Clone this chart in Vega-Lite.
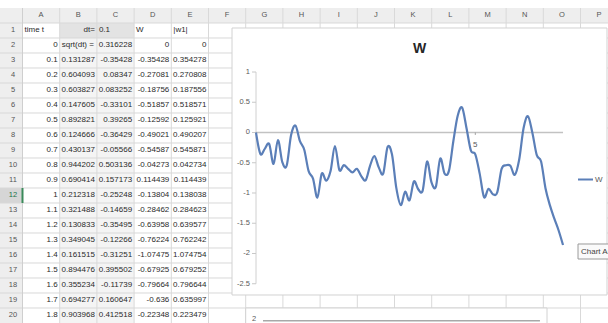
{
  "$schema": "https://vega.github.io/schema/vega-lite/v6.json",
  "width": 608,
  "height": 323,
  "autosize": {"type": "none"},
  "padding": 0,
  "background": "white",
  "config": {
    "view": {"stroke": null},
    "text": {"font": "Liberation Sans Narrow, Arial Narrow, Liberation Sans, sans-serif", "fontSize": 8, "color": "#2a2a2a"}
  },
  "datasets": {
    "walk": [
      {"row": 2, "t": 0, "dW": 0.316228, "W": 0, "absW": 0},
      {"row": 3, "t": 0.1, "rand": 0.131287, "dW": -0.35428, "W": -0.35428, "absW": 0.354278},
      {"row": 4, "t": 0.2, "rand": 0.604093, "dW": 0.08347, "W": -0.27081, "absW": 0.270808},
      {"row": 5, "t": 0.3, "rand": 0.603827, "dW": 0.083252, "W": -0.18756, "absW": 0.187556},
      {"row": 6, "t": 0.4, "rand": 0.147605, "dW": -0.33101, "W": -0.51857, "absW": 0.518571},
      {"row": 7, "t": 0.5, "rand": 0.892821, "dW": 0.39265, "W": -0.12592, "absW": 0.125921},
      {"row": 8, "t": 0.6, "rand": 0.124666, "dW": -0.36429, "W": -0.49021, "absW": 0.490207},
      {"row": 9, "t": 0.7, "rand": 0.430137, "dW": -0.05566, "W": -0.54587, "absW": 0.545871},
      {"row": 10, "t": 0.8, "rand": 0.944202, "dW": 0.503136, "W": -0.04273, "absW": 0.042734},
      {"row": 11, "t": 0.9, "rand": 0.690414, "dW": 0.157173, "W": 0.114439, "absW": 0.114439},
      {"row": 12, "t": 1, "rand": 0.212318, "dW": -0.25248, "W": -0.13804, "absW": 0.138038},
      {"row": 13, "t": 1.1, "rand": 0.321488, "dW": -0.14659, "W": -0.28462, "absW": 0.284623},
      {"row": 14, "t": 1.2, "rand": 0.130833, "dW": -0.35495, "W": -0.63958, "absW": 0.639577},
      {"row": 15, "t": 1.3, "rand": 0.349045, "dW": -0.12266, "W": -0.76224, "absW": 0.762242},
      {"row": 16, "t": 1.4, "rand": 0.161515, "dW": -0.31251, "W": -1.07475, "absW": 1.074754},
      {"row": 17, "t": 1.5, "rand": 0.894476, "dW": 0.395502, "W": -0.67925, "absW": 0.679252},
      {"row": 18, "t": 1.6, "rand": 0.355234, "dW": -0.11739, "W": -0.79664, "absW": 0.796644},
      {"row": 19, "t": 1.7, "rand": 0.694277, "dW": 0.160647, "W": -0.636, "absW": 0.635997},
      {"row": 20, "t": 1.8, "rand": 0.903968, "dW": 0.412518, "W": -0.22348, "absW": 0.223479},
      {"t": 1.9, "W": -0.62}, {"t": 2, "W": -0.54}, {"t": 2.1, "W": -0.6}, {"t": 2.2, "W": -0.66},
      {"t": 2.3, "W": -0.6}, {"t": 2.4, "W": -0.72}, {"t": 2.5, "W": -0.79}, {"t": 2.6, "W": -0.55},
      {"t": 2.7, "W": -0.39}, {"t": 2.8, "W": -0.58}, {"t": 2.9, "W": -0.68}, {"t": 3, "W": -0.24},
      {"t": 3.1, "W": -0.36}, {"t": 3.2, "W": -0.92}, {"t": 3.3, "W": -1.2}, {"t": 3.4, "W": -0.98},
      {"t": 3.5, "W": -1.12}, {"t": 3.6, "W": -0.81}, {"t": 3.7, "W": -0.94}, {"t": 3.8, "W": -0.96},
      {"t": 3.9, "W": -0.48}, {"t": 4, "W": -0.82}, {"t": 4.1, "W": -0.9}, {"t": 4.2, "W": -0.43},
      {"t": 4.3, "W": -0.68}, {"t": 4.4, "W": -0.63}, {"t": 4.5, "W": -0.14}, {"t": 4.6, "W": 0.28},
      {"t": 4.7, "W": 0.41}, {"t": 4.8, "W": 0.07}, {"t": 4.9, "W": -0.3}, {"t": 5, "W": -0.36},
      {"t": 5.1, "W": -0.68}, {"t": 5.2, "W": -1.07}, {"t": 5.3, "W": -0.93}, {"t": 5.4, "W": -1.02},
      {"t": 5.5, "W": -0.99}, {"t": 5.6, "W": -0.6}, {"t": 5.7, "W": -0.54}, {"t": 5.8, "W": -0.55},
      {"t": 5.9, "W": -0.7}, {"t": 6, "W": -0.45}, {"t": 6.1, "W": 0.07}, {"t": 6.2, "W": 0.27},
      {"t": 6.3, "W": 0}, {"t": 6.4, "W": -0.37}, {"t": 6.5, "W": -0.48}, {"t": 6.6, "W": -0.92},
      {"t": 6.7, "W": -1.2}, {"t": 6.8, "W": -1.42}, {"t": 6.9, "W": -1.62}, {"t": 7, "W": -1.86}
    ],
    "valueTicks": [
      {"v": 1}, {"v": 0.5}, {"v": 0}, {"v": -0.5}, {"v": -1}, {"v": -1.5}, {"v": -2}, {"v": -2.5}
    ],
    "timeTicks": [
      {"t": 5}
    ],
    "columns": [
      {"col": 1, "letter": "A"}, {"col": 2, "letter": "B"}, {"col": 3, "letter": "C"}, {"col": 4, "letter": "D"},
      {"col": 5, "letter": "E"}, {"col": 6, "letter": "F"}, {"col": 7, "letter": "G"}, {"col": 8, "letter": "H"},
      {"col": 9, "letter": "I"}, {"col": 10, "letter": "J"}, {"col": 11, "letter": "K"}, {"col": 12, "letter": "L"},
      {"col": 13, "letter": "M"}, {"col": 14, "letter": "N"}, {"col": 15, "letter": "O"}, {"col": 16, "letter": "P"}
    ],
    "rows": [
      {"row": 1}, {"row": 2}, {"row": 3}, {"row": 4}, {"row": 5}, {"row": 6}, {"row": 7}, {"row": 8}, {"row": 9}, {"row": 10},
      {"row": 11}, {"row": 12}, {"row": 13}, {"row": 14}, {"row": 15}, {"row": 16}, {"row": 17}, {"row": 18}, {"row": 19}, {"row": 20}
    ],
    "cellsLeft": [
      {"row": 1, "col": 1, "text": "time t"},
      {"row": 1, "col": 3, "text": "0.1"},
      {"row": 1, "col": 4, "text": "W"},
      {"row": 1, "col": 5, "text": "|w1|"},
      {"row": 2, "col": 2, "text": "sqrt(dt) ="}
    ],
    "cellsRight": [
      {"row": 1, "col": 2, "text": "dt="}
    ]
  },
  "layer": [
    {
      "layer": [
        {
          "data": {"values": [{}]},
          "mark": {"type": "rect", "fill": "#eeeeee"},
          "encoding": {
            "x": {"datum": -0.6048, "type": "quantitative", "scale": {"domain": [-0.6048, 15.7392], "nice": false, "zero": false}, "axis": null},
            "x2": {"datum": 15.7392},
            "y": {"datum": 0, "type": "quantitative", "scale": {"domain": [-0.5333, 21], "nice": false, "zero": false, "reverse": true}, "axis": null},
            "y2": {"datum": 1}
          }
        },
        {
          "data": {"values": [{}]},
          "mark": {"type": "rect", "fill": "#eeeeee"},
          "encoding": {
            "x": {"datum": -0.6048, "type": "quantitative", "axis": null},
            "x2": {"datum": 0},
            "y": {"datum": 0, "type": "quantitative", "axis": null},
            "y2": {"datum": 21}
          }
        },
        {
          "data": {"values": [{}]},
          "mark": {"type": "rect", "fill": "#e3e3e3"},
          "encoding": {
            "x": {"datum": 1, "type": "quantitative", "axis": null},
            "x2": {"datum": 3},
            "y": {"datum": 1, "type": "quantitative", "axis": null},
            "y2": {"datum": 2}
          }
        },
        {
          "data": {"values": [{}]},
          "mark": {"type": "rect", "fill": "#f4f4f4"},
          "encoding": {
            "x": {"datum": 1, "type": "quantitative", "axis": null},
            "x2": {"datum": 3},
            "y": {"datum": 2, "type": "quantitative", "axis": null},
            "y2": {"datum": 21}
          }
        },
        {
          "data": {"values": [{}]},
          "mark": {"type": "rect", "fill": "#d6d6d6"},
          "encoding": {
            "x": {"datum": -0.6048, "type": "quantitative", "axis": null},
            "x2": {"datum": 0},
            "y": {"datum": 12, "type": "quantitative", "axis": null},
            "y2": {"datum": 13}
          }
        },
        {
          "data": {"name": "rows"},
          "mark": {"type": "rule", "stroke": "#d9d9d9", "strokeWidth": 1},
          "encoding": {
            "y": {"field": "row", "type": "quantitative", "axis": null},
            "x": {"datum": -0.6048, "type": "quantitative", "axis": null},
            "x2": {"datum": 15.7392}
          }
        },
        {
          "data": {"name": "columns"},
          "mark": {"type": "rule", "stroke": "#d9d9d9", "strokeWidth": 1},
          "encoding": {
            "x": {"field": "col", "type": "quantitative", "axis": null},
            "y": {"datum": 0, "type": "quantitative", "axis": null},
            "y2": {"datum": 21}
          }
        },
        {
          "data": {"values": [{}]},
          "mark": {"type": "rule", "stroke": "#cfcfcf", "strokeWidth": 1},
          "encoding": {
            "x": {"datum": 0, "type": "quantitative", "axis": null},
            "y": {"datum": 0, "type": "quantitative", "axis": null},
            "y2": {"datum": 21}
          }
        },
        {
          "data": {"values": [{}]},
          "mark": {"type": "rule", "stroke": "#3a8a5a", "strokeWidth": 2},
          "encoding": {
            "x": {"datum": 0, "type": "quantitative", "axis": null},
            "y": {"datum": 12, "type": "quantitative", "axis": null},
            "y2": {"datum": 13}
          }
        },
        {
          "data": {"name": "columns"},
          "mark": {"type": "text", "align": "center", "baseline": "middle", "dx": -18.6, "dy": 7.5, "fontSize": 7.5, "color": "#555555"},
          "encoding": {
            "x": {"field": "col", "type": "quantitative", "axis": null},
            "y": {"datum": 0, "type": "quantitative", "axis": null},
            "text": {"field": "letter", "type": "nominal"}
          }
        },
        {
          "data": {"name": "rows"},
          "mark": {"type": "text", "align": "center", "baseline": "middle", "dy": 7.5, "fontSize": 7.5},
          "encoding": {
            "x": {"datum": -0.2554, "type": "quantitative", "axis": null},
            "y": {"field": "row", "type": "quantitative", "axis": null},
            "text": {"field": "row", "type": "nominal"},
            "color": {"condition": {"test": "datum.row === 12", "value": "#217346"}, "value": "#555555"}
          }
        },
        {
          "data": {"name": "walk"},
          "transform": [{"filter": "isValid(datum.row)"}],
          "mark": {"type": "text", "align": "right", "baseline": "middle", "dx": -2, "dy": 7.5},
          "encoding": {
            "x": {"datum": 1, "type": "quantitative", "axis": null},
            "y": {"field": "row", "type": "quantitative", "axis": null},
            "text": {"field": "t", "type": "nominal"}
          }
        },
        {
          "data": {"name": "walk"},
          "transform": [{"filter": "isValid(datum.row) && isValid(datum.rand)"}],
          "mark": {"type": "text", "align": "right", "baseline": "middle", "dx": -2, "dy": 7.5},
          "encoding": {
            "x": {"datum": 2, "type": "quantitative", "axis": null},
            "y": {"field": "row", "type": "quantitative", "axis": null},
            "text": {"field": "rand", "type": "nominal"}
          }
        },
        {
          "data": {"name": "walk"},
          "transform": [{"filter": "isValid(datum.row)"}],
          "mark": {"type": "text", "align": "right", "baseline": "middle", "dx": -2, "dy": 7.5},
          "encoding": {
            "x": {"datum": 3, "type": "quantitative", "axis": null},
            "y": {"field": "row", "type": "quantitative", "axis": null},
            "text": {"field": "dW", "type": "nominal"}
          }
        },
        {
          "data": {"name": "walk"},
          "transform": [{"filter": "isValid(datum.row)"}],
          "mark": {"type": "text", "align": "right", "baseline": "middle", "dx": -2, "dy": 7.5},
          "encoding": {
            "x": {"datum": 4, "type": "quantitative", "axis": null},
            "y": {"field": "row", "type": "quantitative", "axis": null},
            "text": {"field": "W", "type": "nominal"}
          }
        },
        {
          "data": {"name": "walk"},
          "transform": [{"filter": "isValid(datum.row)"}],
          "mark": {"type": "text", "align": "right", "baseline": "middle", "dx": -2, "dy": 7.5},
          "encoding": {
            "x": {"datum": 5, "type": "quantitative", "axis": null},
            "y": {"field": "row", "type": "quantitative", "axis": null},
            "text": {"field": "absW", "type": "nominal"}
          }
        },
        {
          "data": {"name": "cellsLeft"},
          "mark": {"type": "text", "align": "left", "baseline": "middle", "dx": -35.2, "dy": 7.5},
          "encoding": {
            "x": {"field": "col", "type": "quantitative", "axis": null},
            "y": {"field": "row", "type": "quantitative", "axis": null},
            "text": {"field": "text", "type": "nominal"}
          }
        },
        {
          "data": {"name": "cellsRight"},
          "mark": {"type": "text", "align": "right", "baseline": "middle", "dx": -2, "dy": 7.5},
          "encoding": {
            "x": {"field": "col", "type": "quantitative", "axis": null},
            "y": {"field": "row", "type": "quantitative", "axis": null},
            "text": {"field": "text", "type": "nominal"}
          }
        },
        {
          "data": {"values": [{}]},
          "mark": {"type": "rect", "fill": "white", "stroke": "#d2d2d2", "strokeWidth": 1},
          "encoding": {
            "x": {"datum": 5.632, "type": "quantitative", "axis": null},
            "x2": {"datum": 15.712},
            "y": {"datum": 1.333, "type": "quantitative", "axis": null},
            "y2": {"datum": 19.133}
          }
        },
        {
          "data": {"values": [{}]},
          "mark": {"type": "rect", "fill": "white", "stroke": "#d2d2d2", "strokeWidth": 1},
          "encoding": {
            "x": {"datum": 6, "type": "quantitative", "axis": null},
            "x2": {"datum": 14.1},
            "y": {"datum": 20, "type": "quantitative", "axis": null},
            "y2": {"datum": 21.6}
          }
        },
        {
          "data": {"values": [{}]},
          "mark": {"type": "rule", "stroke": "#a8a8a8", "strokeWidth": 1.5},
          "encoding": {
            "x": {"datum": 6.465, "type": "quantitative", "axis": null},
            "x2": {"datum": 13.91},
            "y": {"datum": 20.85, "type": "quantitative", "axis": null}
          }
        },
        {
          "data": {"values": [{}]},
          "mark": {"type": "text", "text": "2", "align": "center", "baseline": "middle", "fontSize": 7.5, "color": "#595959"},
          "encoding": {
            "x": {"datum": 6.223, "type": "quantitative", "axis": null},
            "y": {"datum": 20.73, "type": "quantitative", "axis": null}
          }
        }
      ]
    },
    {
      "layer": [
        {
          "data": {"values": [{}]},
          "mark": {"type": "rule", "stroke": "#d0d0d0", "strokeWidth": 1},
          "encoding": {
            "x": {"datum": 0, "type": "quantitative", "scale": {"domain": [-5.8368, 8.0255], "nice": false, "zero": false}, "axis": null},
            "y": {"datum": -2.5, "type": "quantitative", "scale": {"domain": [-3.1488, 2.1901], "nice": false, "zero": false}, "axis": null},
            "y2": {"datum": 1}
          }
        },
        {
          "data": {"name": "valueTicks"},
          "mark": {"type": "rule", "stroke": "#c8c8c8", "strokeWidth": 1},
          "encoding": {
            "x": {"datum": -0.0912, "type": "quantitative", "axis": null},
            "x2": {"datum": 0},
            "y": {"field": "v", "type": "quantitative", "axis": null}
          }
        },
        {
          "data": {"name": "valueTicks"},
          "mark": {"type": "text", "align": "right", "baseline": "middle", "dx": -6, "fontSize": 7.5, "color": "#595959"},
          "encoding": {
            "x": {"datum": 0, "type": "quantitative", "axis": null},
            "y": {"field": "v", "type": "quantitative", "axis": null},
            "text": {"field": "v", "type": "nominal"}
          }
        },
        {
          "data": {"values": [{}]},
          "mark": {"type": "rule", "stroke": "#c2c2c2", "strokeWidth": 1.5},
          "encoding": {
            "x": {"datum": 0, "type": "quantitative", "axis": null},
            "x2": {"datum": 7},
            "y": {"datum": 0, "type": "quantitative", "axis": null}
          }
        },
        {
          "data": {"name": "timeTicks"},
          "mark": {"type": "rule", "stroke": "#a0a0a0", "strokeWidth": 1},
          "encoding": {
            "x": {"field": "t", "type": "quantitative", "axis": null},
            "y": {"datum": 0, "type": "quantitative", "axis": null},
            "y2": {"datum": -0.04}
          }
        },
        {
          "data": {"name": "timeTicks"},
          "mark": {"type": "text", "align": "center", "baseline": "middle", "dy": 13, "fontSize": 8, "color": "#595959"},
          "encoding": {
            "x": {"field": "t", "type": "quantitative", "axis": null},
            "y": {"datum": 0, "type": "quantitative", "axis": null},
            "text": {"field": "t", "type": "nominal"}
          }
        },
        {
          "data": {"name": "walk"},
          "mark": {"type": "line", "interpolate": "cardinal", "tension": 0, "strokeWidth": 2.2},
          "encoding": {
            "x": {"field": "t", "type": "quantitative", "axis": null},
            "y": {"field": "W", "type": "quantitative", "axis": null},
            "color": {
              "datum": "W", "type": "nominal",
              "scale": {"range": ["#5b7fb8"]},
              "legend": {"orient": "none", "legendX": 577, "legendY": 171, "title": null, "padding": 0, "symbolType": "stroke", "symbolStrokeWidth": 2, "symbolSize": 225, "labelFont": "Liberation Sans Narrow, Arial Narrow, Liberation Sans, sans-serif", "labelFontSize": 8, "labelColor": "#595959", "labelOffset": 1}
            }
          }
        },
        {
          "data": {"values": [{}]},
          "mark": {"type": "text", "text": "W", "align": "center", "baseline": "middle", "font": "Liberation Sans", "fontSize": 14, "fontWeight": "bold", "color": "#262626"},
          "encoding": {
            "x": {"datum": 3.728, "type": "quantitative", "axis": null},
            "y": {"datum": 1.388, "type": "quantitative", "axis": null}
          }
        },
        {
          "data": {"values": [{}]},
          "mark": {"type": "rect", "fill": "#fafafa", "stroke": "#9a9a9a", "strokeWidth": 1},
          "encoding": {
            "x": {"datum": 7.342, "type": "quantitative", "axis": null},
            "x2": {"datum": 8.1},
            "y": {"datum": -1.843, "type": "quantitative", "axis": null},
            "y2": {"datum": -2.091}
          }
        },
        {
          "data": {"values": [{}]},
          "mark": {"type": "text", "text": "Chart Area", "align": "left", "baseline": "middle", "fontSize": 8, "color": "#444444"},
          "encoding": {
            "x": {"datum": 7.41, "type": "quantitative", "axis": null},
            "y": {"datum": -1.975, "type": "quantitative", "axis": null}
          }
        }
      ]
    }
  ],
  "resolve": {"scale": {"x": "independent", "y": "independent"}}
}
